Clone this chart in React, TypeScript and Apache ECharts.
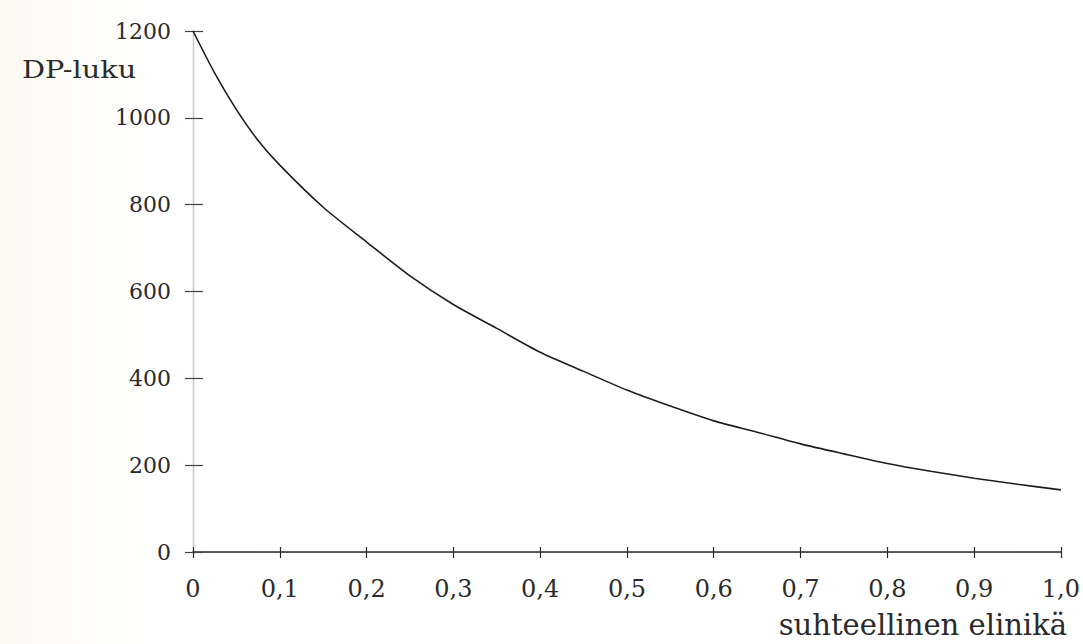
import React, { useEffect, useRef } from "react";
import * as echarts from "echarts";

const lifeFraction = [0, 0.025, 0.05, 0.075, 0.1, 0.15, 0.2, 0.25, 0.3, 0.35, 0.4, 0.45, 0.5, 0.55, 0.6, 0.65, 0.7, 0.75, 0.8, 0.85, 0.9, 0.95, 1.0];
const dpValues = [1200, 1103, 1019, 948, 891, 794, 714, 636, 570, 515, 460, 416, 373, 336, 302, 276, 249, 226, 204, 186, 170, 156, 143];
const yTitle = "DP-luku";
const xTitle = "suhteellinen elinikä";

const FONT = "DejaVu Serif";
const INK = "#2a2a2a";

function fmtX(v: number): string {
  if (v === 0) return "0";
  return v.toFixed(1).replace(".", ",");
}

export default function App() {
  const ref = useRef<HTMLDivElement>(null);
  useEffect(() => {
    if (!ref.current) return;
    const chart = echarts.init(ref.current, undefined, { renderer: "svg" });
    const data = lifeFraction.map((x, i) => [x, dpValues[i]]);
    const grid = { left: 193, right: 22, top: 31, bottom: 92 };
    const baseX = { type: "value", min: 0, max: 1, interval: 0.1, gridIndex: 0 };
    const baseY = { type: "value", min: 0, max: 1200, interval: 200, gridIndex: 0 };
    chart.setOption({
      animation: false,
      backgroundColor: "#ffffff",
      grid,
      xAxis: [
        {
          ...baseX,
          position: "bottom",
          axisLine: { show: true, lineStyle: { color: INK, width: 1.5 } },
          axisTick: { show: true, inside: false, length: 6, lineStyle: { color: INK, width: 1.2 } },
          axisLabel: {
            show: true,
            margin: 25,
            color: INK,
            fontFamily: FONT,
            fontSize: 24,
            formatter: (v: number) => fmtX(v),
          },
          splitLine: { show: false },
        },
        {
          ...baseX,
          position: "bottom",
          axisLine: { show: false },
          axisTick: { show: true, inside: true, length: 5, lineStyle: { color: INK, width: 1.2 } },
          axisLabel: { show: false },
          splitLine: { show: false },
        },
        {
          ...baseX,
          position: "top",
          axisLine: { show: true, lineStyle: { color: "#555", width: 1.2 } },
          axisTick: { show: false },
          axisLabel: { show: false },
          splitLine: { show: false },
        },
      ],
      yAxis: [
        {
          ...baseY,
          position: "left",
          axisLine: { show: true, lineStyle: { color: "#777", width: 1.2 } },
          axisTick: { show: true, inside: false, length: 8, lineStyle: { color: "#444", width: 1.2 } },
          axisLabel: {
            show: true,
            margin: 22,
            color: INK,
            fontFamily: FONT,
            fontSize: 22,
            formatter: (v: number) => String(v),
          },
          splitLine: { show: false },
        },
        {
          ...baseY,
          position: "left",
          axisLine: { show: false },
          axisTick: { show: true, inside: true, length: 10, lineStyle: { color: "#444", width: 1.2 } },
          axisLabel: { show: false },
          splitLine: { show: false },
        },
        {
          ...baseY,
          position: "right",
          axisLine: { show: true, lineStyle: { color: "#c8c8c8", width: 1 } },
          axisTick: { show: false },
          axisLabel: { show: false },
          splitLine: { show: false },
        },
      ],
      series: [
        {
          type: "line",
          xAxisIndex: 0,
          yAxisIndex: 0,
          data,
          smooth: 0.25,
          showSymbol: false,
          symbol: "none",
          lineStyle: { color: "#1e1e1e", width: 1.6 },
        },
      ],
      graphic: [
        {
          type: "rect",
          left: 0,
          top: 0,
          z: -10,
          shape: { width: 160, height: 644 },
          style: {
            fill: new echarts.graphic.LinearGradient(0, 0, 1, 0, [
              { offset: 0, color: "#fcfaf1" },
              { offset: 1, color: "#ffffff" },
            ]),
          },
        },
        {
          type: "text",
          left: 22,
          top: 57,
          scaleX: 1.15,
          style: { text: yTitle, fontFamily: FONT, fontSize: 25, fill: INK },
        },
        {
          type: "text",
          right: 16,
          top: 610,
          style: { text: xTitle, fontFamily: FONT, fontSize: 29, fill: INK },
        },
      ],
    });
    return () => chart.dispose();
  }, []);
  return (
    <div
      ref={ref}
      style={{ position: "fixed", left: 0, top: 0, width: 1083, height: 644 }}
    />
  );
}
